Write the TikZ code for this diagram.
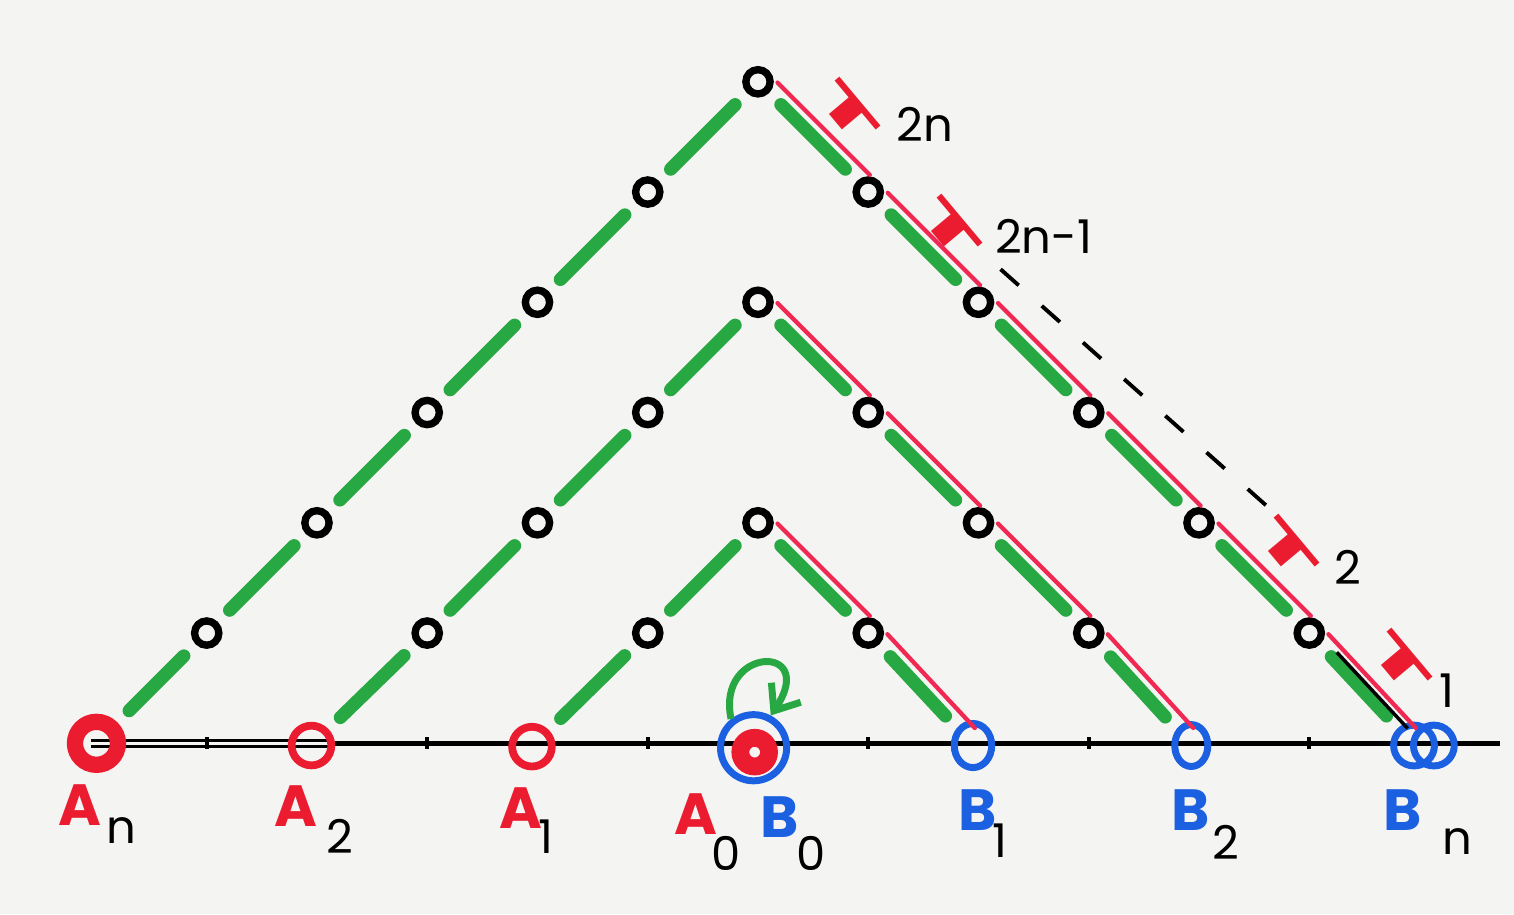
\documentclass[tikz,border=0pt]{standalone}
\usepackage{fontspec}
\setmainfont{Poppins}
\usetikzlibrary{arrows.meta,calc,shapes.geometric}
\definecolor{pengreen}{RGB}{40,168,66}
\definecolor{penred}{RGB}{236,28,48}
\definecolor{linered}{RGB}{240,40,82}
\definecolor{penblue}{RGB}{28,96,226}
\definecolor{paper}{RGB}{244,244,242}

\begin{document}
\begin{tikzpicture}[
  ring/.style={circle,draw,inner sep=0pt},
  oval/.style={ellipse,draw=penblue,line width=1.8pt,inner sep=0pt},
  dot/.style={circle,draw=black,line width=1.9pt,minimum size=2.2mm,inner sep=0pt},
  greenseg/.style={pengreen,line width=3.4pt,line cap=round,shorten <=1.5mm,shorten >=1.5mm},
  redseg/.style={linered,line width=1.1pt,line cap=round,shorten <=1.3mm,shorten >=1mm},
  guide/.style={black,line width=1pt,dash pattern=on 2.2mm off 2.8mm},
  axisline/.style={black,line width=1.3pt},
  tickmark/.style={black,line width=1pt},
  tee/.style={text=penred,font=\bfseries\fontsize{19}{19}\selectfont,inner sep=0pt,rotate=-50,xscale=1.6,yscale=0.62},
  lettxt/.style={font=\bfseries\fontsize{15}{15}\selectfont,inner sep=0pt},
  subtxt/.style={font=\fontsize{12}{12}\selectfont,inner sep=0pt}]
  \fill[paper] (-6.875,-1.548) rectangle (6.857,6.742);

  % the line
  \coordinate (axl) at (-6.05,0);
  \coordinate (axm) at (-3.9,0);
  \coordinate (axr) at (6.73,0);
  \draw[black,line width=0.7pt] ($(axl)+(0,0.028)$) -- ($(axm)+(0,0.028)$);
  \draw[black,line width=0.7pt] ($(axl)+(0,-0.028)$) -- ($(axm)+(0,-0.028)$);
  \draw[axisline] (axm) -- (axr);
  \foreach \x in {-5,-3,-1,1,3,5}
    \draw[tickmark] (\x,-0.05) -- (\x,0.06);

  % points on the line
  \node[ring,draw=penred,line width=4.2pt,minimum size=3.9mm,alias=p-6-0] (an) at (-6,0) {};
  \node[ring,draw=penred,line width=2pt,minimum size=3.6mm,alias=p-4-0] (a2) at (-4.05,-0.02) {};
  \node[ring,draw=penred,line width=2pt,minimum size=3.6mm,alias=p-2-0] (a1) at (-2.05,-0.03) {};
  \node[ring,draw=penblue,line width=1.8pt,minimum size=6mm] (b0) at (-0.04,-0.04) {};
  \node[ring,draw=penred,line width=4.6pt,minimum size=2.6mm] (a0) at (-0.03,-0.08) {};
  \node[oval,minimum width=3.4mm,minimum height=4mm,alias=p-2-4] (b1) at (1.95,-0.02) {};
  \node[oval,minimum width=3mm,minimum height=3.8mm,alias=p-4-8] (b2) at (3.93,-0.02) {};
  \node[ring,draw=penblue,line width=1.8pt,minimum size=3.7mm,alias=p-6-12] (bn) at (5.95,-0.02) {};
  \node[ring,draw=penblue,line width=1.8pt,minimum size=3.7mm] (bn2) at (6.13,-0.02) {};

  % small circles
  \foreach \h in {2,4,6}{
    \pgfmathtruncatemacro\m{2*\h-1}
    \foreach \j in {1,...,\m}{
      \pgfmathsetmacro\px{\j<=\h ? -\h+\j : \j-\h}
      \pgfmathsetmacro\py{\j<=\h ? \j : 2*\h-\j}
      \node[dot] (p-\h-\j) at (\px,\py) {};
    }
  }

  % green pieces
  \foreach \h in {2,4,6}{
    \pgfmathtruncatemacro\m{2*\h-1}
    \foreach \j in {0,...,\m}{
      \pgfmathtruncatemacro\k{\j+1}
      \draw[greenseg] (p-\h-\j) -- (p-\h-\k);
    }
  }

  % red pieces
  \foreach \h in {2,4,6}{
    \pgfmathtruncatemacro\m{2*\h-1}
    \foreach \j in {\h,...,\m}{
      \pgfmathtruncatemacro\k{\j+1}
      \draw[redseg] ($(p-\h-\j)+(0.085,0.085)$) -- ($(p-\h-\k)+(0.085,0.085)$);
    }
  }
  \draw[black,line width=0.9pt,shorten <=3mm,shorten >=1.5mm] ($(p-6-11)+(0.045,0.045)$) -- ($(bn)+(0.045,0.045)$);

  % dashed guide
  \coordinate (gs) at (2.2,4.3);
  \coordinate (ge) at (4.64,2.13);
  \draw[guide] (gs) -- (ge);

  % loop at B0
  \draw[pengreen,line width=1.8pt,-{Straight Barb[length=2mm,width=3.2mm]}]
    (b0.128) .. controls +(-0.14,0.66) and +(0.44,0.66) .. (b0.62);

  % labels T
  \node[tee] (t2n) at (0.82,5.73) {T};
  \node[subtxt] (t2n-s) at (1.515,5.61) {2n};
  \node[tee] (t2n1) at (1.74,4.67) {T};
  \node[subtxt] (t2n1-s) at (2.59,4.60) {2n-1};
  \node[tee] (t2) at (4.80,1.76) {T};
  \node[subtxt] (t2-s) at (5.35,1.60) {2};
  \node[tee] (t1) at (5.82,0.73) {T};
  \node[subtxt] (t1-s) at (6.25,0.48) {1};

  % labels A and B
  \node[lettxt,text=penred] (an-l) at (-6.15,-0.56) {A};
  \node[subtxt] (an-s) at (-5.77,-0.79) {n};
  \node[lettxt,text=penred] (a2-l) at (-4.19,-0.57) {A};
  \node[subtxt] (a2-s) at (-3.79,-0.84) {2};
  \node[lettxt,text=penred] (a1-l) at (-2.15,-0.59) {A};
  \node[subtxt] (a1-s) at (-1.92,-0.85) {1};
  \node[lettxt,text=penred] (a0-l) at (-0.56,-0.64) {A};
  \node[subtxt] (a0-s) at (-0.29,-1.0) {0};
  \node[lettxt,text=penblue] (b0-l) at (0.2,-0.67) {B};
  \node[subtxt] (b0-s) at (0.48,-1.0) {0};
  \node[lettxt,text=penblue] (b1-l) at (1.99,-0.61) {B};
  \node[subtxt] (b1-s) at (2.19,-0.88) {1};
  \node[lettxt,text=penblue] (b2-l) at (3.92,-0.61) {B};
  \node[subtxt] (b2-s) at (4.24,-0.90) {2};
  \node[lettxt,text=penblue] (bn-l) at (5.85,-0.61) {B};
  \node[subtxt] (bn-s) at (6.34,-0.89) {n};
\end{tikzpicture}
\end{document}
